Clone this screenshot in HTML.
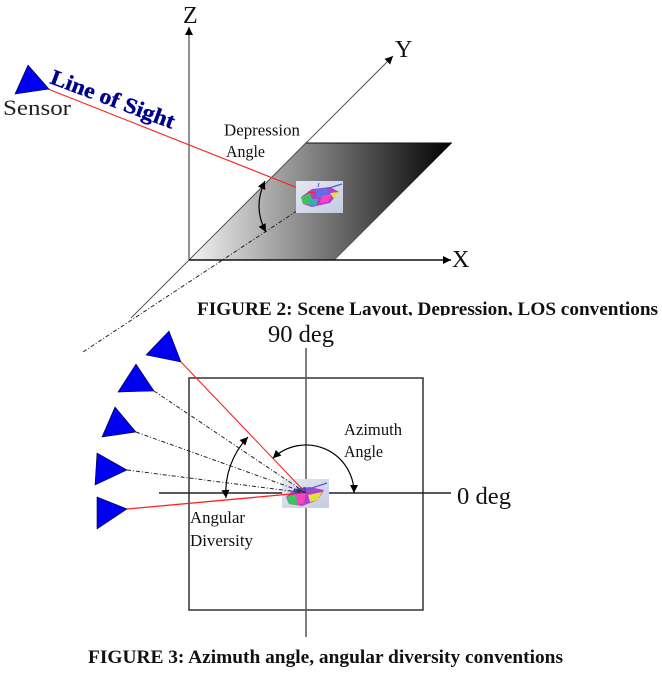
<!DOCTYPE html>
<html><head><meta charset="utf-8"><style>
html,body{margin:0;padding:0;background:#fff;}
svg{display:block;}
text{font-family:"Liberation Serif",serif;}
</style></head><body>
<svg width="662" height="676" viewBox="0 0 662 676" xmlns="http://www.w3.org/2000/svg">
<defs>
<marker id="ah" viewBox="0 0 10 10" refX="10" refY="5" markerWidth="9" markerHeight="8" markerUnits="userSpaceOnUse" orient="auto-start-reverse">
<path d="M0,0 L10,5 L0,10 z" fill="#000"/>
</marker>
<linearGradient id="floor" gradientUnits="userSpaceOnUse" x1="189" y1="0" x2="452" y2="0">
<stop offset="0" stop-color="#f4f4f4"/>
<stop offset="1" stop-color="#000"/>
</linearGradient>
<linearGradient id="tk" x1="0" y1="0" x2="1" y2="1">
<stop offset="0" stop-color="#e4e8f2"/>
<stop offset="1" stop-color="#c4cce0"/>
</linearGradient>
<clipPath id="cap2"><rect x="0" y="290" width="662" height="25.5"/></clipPath>
</defs>

<!-- FIGURE 2 -->
<polygon points="189,260 305,143 452,143 335,260" fill="url(#floor)"/>
<line x1="305" y1="143" x2="452" y2="143" stroke="#111" stroke-width="1"/>
<!-- Y axis -->
<line x1="131" y1="318" x2="393" y2="56" stroke="#555" stroke-width="1" marker-end="url(#ah)"/>
<!-- Z axis -->
<line x1="189" y1="260" x2="189" y2="27" stroke="#777" stroke-width="1.6" marker-end="url(#ah)"/>
<!-- X axis -->
<line x1="189" y1="260" x2="451" y2="260" stroke="#111" stroke-width="1.4" marker-end="url(#ah)"/>
<!-- dashed projection -->
<line x1="312" y1="201" x2="83" y2="352" stroke="#222" stroke-width="1" stroke-dasharray="4 2 1 2"/>
<!-- LOS -->
<line x1="48" y1="89" x2="308" y2="192" stroke="#ff2020" stroke-width="1.1"/>
<!-- depression arc -->
<path d="M265,181 Q252.5,207.5 266,232" fill="none" stroke="#000" stroke-width="1.2" marker-start="url(#ah)" marker-end="url(#ah)"/>
<!-- tank 1 -->
<rect x="296" y="181" width="47" height="32" fill="url(#tk)"/>
<polygon points="301,197 312,189 330,187 339,192 330,203 312,207 303,204" fill="#b040d0"/>
<polygon points="301,197 310,193 314,205 303,204" fill="#40c060"/>
<polygon points="314,190 326,188 330,194 318,198" fill="#6070e0"/>
<polygon points="322,196 332,194 328,202 320,203" fill="#ff40c0"/>
<polygon points="330,193 339,192 334,199" fill="#e0e040"/>
<polygon points="310,199 318,199 316,206 309,205" fill="#30b0b0"/>
<line x1="326" y1="189" x2="342" y2="184" stroke="#5060d0" stroke-width="1.2"/>
<line x1="318" y1="187" x2="319" y2="183" stroke="#5060d0" stroke-width="1"/>
<line x1="308" y1="192" x2="316" y2="193" stroke="#ff2020" stroke-width="1"/>
<!-- sensor -->
<polygon points="15,94 28,65 49,89" fill="#0000f0" stroke="#000030" stroke-width="0.6"/>
<text x="3" y="115" font-size="22" textLength="68" lengthAdjust="spacingAndGlyphs" fill="#222">Sensor</text>
<text x="49" y="83" font-size="22" font-weight="bold" fill="#00007a" stroke="#0000c0" stroke-width="0.4" textLength="131" lengthAdjust="spacingAndGlyphs" transform="rotate(20.5 49 83)">Line of Sight</text>
<text x="183" y="23" font-size="24" fill="#111">Z</text>
<text x="395" y="57" font-size="24" fill="#111">Y</text>
<text x="452" y="267" font-size="24" fill="#111">X</text>
<text x="224" y="135.5" font-size="16.5" textLength="76" lengthAdjust="spacingAndGlyphs" fill="#111">Depression</text>
<text x="226" y="157" font-size="16.5" textLength="39" lengthAdjust="spacingAndGlyphs" fill="#111">Angle</text>
<g clip-path="url(#cap2)">
<text x="197" y="315" font-size="19" font-weight="bold" textLength="461" lengthAdjust="spacingAndGlyphs" fill="#111">FIGURE 2: Scene Layout, Depression, LOS conventions</text>
</g>

<!-- FIGURE 3 -->
<rect x="189" y="378" width="234" height="232" fill="none" stroke="#333" stroke-width="1.5"/>
<line x1="306" y1="348" x2="306" y2="637" stroke="#555" stroke-width="1.5"/>
<line x1="159" y1="493" x2="451" y2="493" stroke="#222" stroke-width="1.5"/>
<text x="268" y="342" font-size="24" textLength="66" lengthAdjust="spacingAndGlyphs" fill="#111">90 deg</text>
<text x="457" y="504" font-size="24" textLength="54" lengthAdjust="spacingAndGlyphs" fill="#111">0 deg</text>
<!-- tank 2 -->
<rect x="282" y="479" width="47" height="29" fill="url(#tk)"/>
<polygon points="286,497 294,489 310,487 324,490 318,500 302,506 289,504" fill="#b040d0"/>
<polygon points="286,497 296,494 298,505 289,504" fill="#40c060"/>
<polygon points="308,495 322,492 318,500 310,502" fill="#e0e040"/>
<polygon points="296,494 306,492 304,503 298,505" fill="#ff40c0"/>
<polygon points="294,489 306,487 306,493 295,494" fill="#3050c0"/>
<line x1="306" y1="490" x2="327" y2="483" stroke="#5060d0" stroke-width="1.2"/>
<!-- lines from sensors -->
<line x1="181" y1="362" x2="306" y2="493" stroke="#ff2020" stroke-width="1.1"/>
<line x1="154" y1="391" x2="306" y2="493" stroke="#222" stroke-width="1" stroke-dasharray="4 2 1 2"/>
<line x1="136" y1="432" x2="306" y2="493" stroke="#222" stroke-width="1" stroke-dasharray="4 2 1 2"/>
<line x1="127" y1="470" x2="306" y2="493" stroke="#222" stroke-width="1" stroke-dasharray="4 2 1 2"/>
<line x1="127" y1="509" x2="302" y2="493" stroke="#ff2020" stroke-width="1.3"/>
<!-- sensors -->
<polygon points="146,355 169,331 181,362" fill="#0000f0" stroke="#000030" stroke-width="0.6"/>
<polygon points="118,392 136,364 154,391" fill="#0000f0" stroke="#000030" stroke-width="0.6"/>
<polygon points="102,437 115,407 136,432" fill="#0000f0" stroke="#000030" stroke-width="0.6"/>
<polygon points="95,485 97,453 127,470" fill="#0000f0" stroke="#000030" stroke-width="0.6"/>
<polygon points="97,497 97,529 127,509" fill="#0000f0" stroke="#000030" stroke-width="0.6"/>
<!-- arcs -->
<path d="M248,437 A80,80 0 0 0 226,498" fill="none" stroke="#000" stroke-width="1.2" marker-start="url(#ah)" marker-end="url(#ah)"/>
<path d="M272.8,458.3 A48,48 0 0 1 354,493" fill="none" stroke="#000" stroke-width="1.2" marker-start="url(#ah)" marker-end="url(#ah)"/>
<text x="344" y="435" font-size="16.5" textLength="58" lengthAdjust="spacingAndGlyphs" fill="#111">Azimuth</text>
<text x="344" y="457" font-size="16.5" textLength="39" lengthAdjust="spacingAndGlyphs" fill="#111">Angle</text>
<text x="190" y="523" font-size="16.5" textLength="55" lengthAdjust="spacingAndGlyphs" fill="#111">Angular</text>
<text x="190" y="546" font-size="16.5" textLength="63" lengthAdjust="spacingAndGlyphs" fill="#111">Diversity</text>
<text x="88" y="663" font-size="19" font-weight="bold" textLength="475" lengthAdjust="spacingAndGlyphs" fill="#111">FIGURE 3: Azimuth angle, angular diversity conventions</text>
</svg>
</body></html>
